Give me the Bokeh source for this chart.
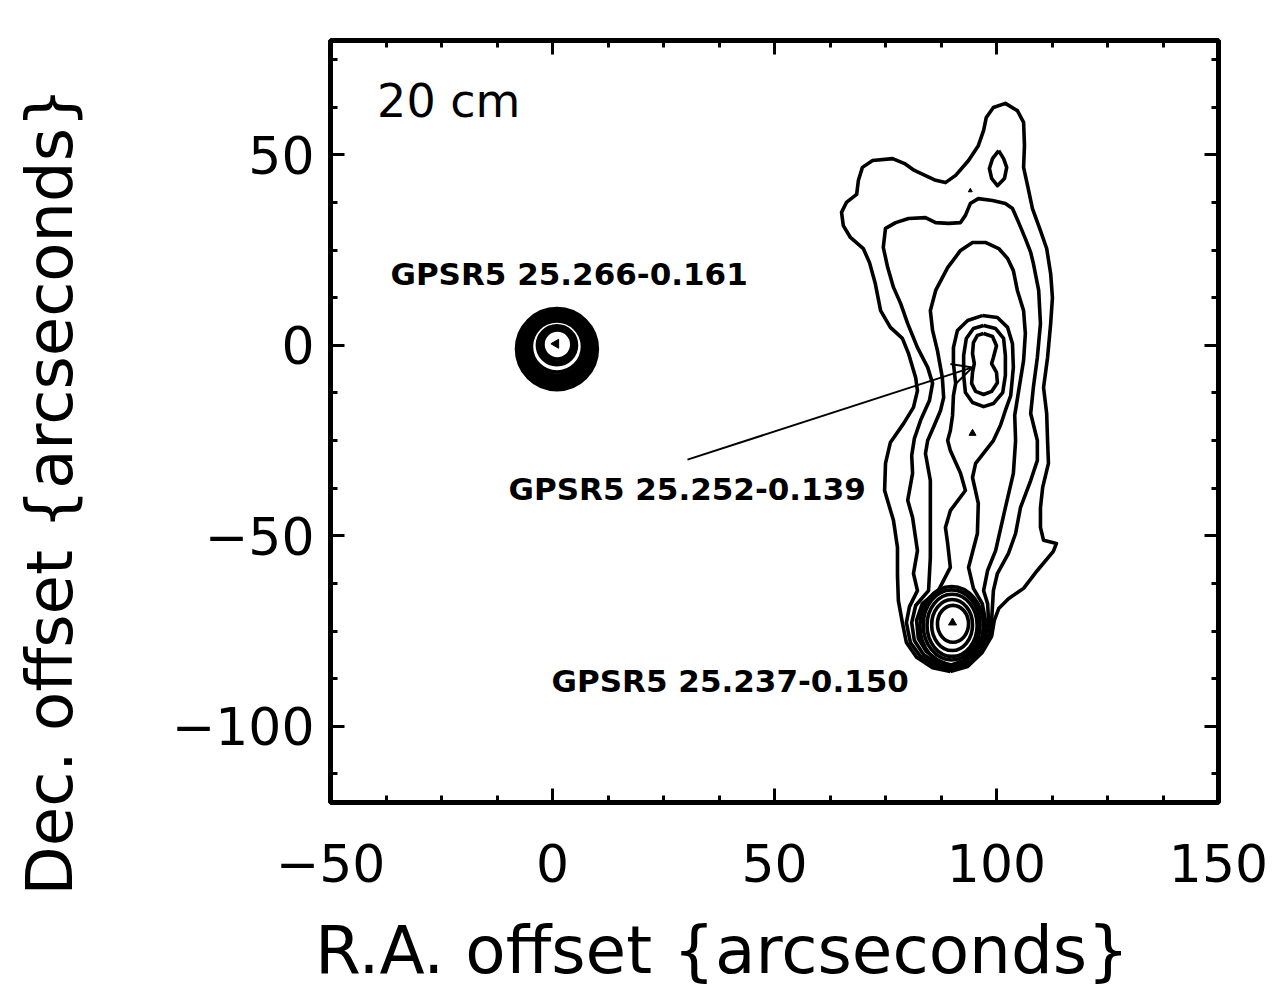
import numpy as np
from bokeh.plotting import figure
from bokeh.models import (FixedTicker, LinearAxis, Arrow, OpenHead, Title,
                          ColumnDataSource, Range1d, CustomJSTickFormatter)
from bokeh.core.properties import value
from bokeh.embed import file_html
from bokeh.resources import INLINE

# ---------------- axes / ticks ----------------
x_major_ticks = [-50, 0, 50, 100, 150]
y_major_ticks = [-100, -50, 0, 50]
x_minor_ticks = [-37.5, -25, -12.5, 12.5, 25, 37.5, 62.5, 75, 87.5, 112.5, 125, 137.5]
y_minor_ticks = [-112.5, -87.5, -75, -62.5, -37.5, -25, -12.5, 12.5, 25, 37.5, 62.5, 75]
tick_label_overrides = {-100: "\u2212100", -50: "\u221250"}
x_title = "R.A. offset {arcseconds}"
y_title = "Dec. offset {arcseconds}"

# ---------------- contours (arcsec offsets) ----------------
contour_1 = [(89.6,-85.6),(85.6,-84.6),(82.0,-81.9),(79.7,-78.0),(78.8,-72.8),(77.9,-67.0),
             (77.7,-60.4),(77.7,-53.1),(76.8,-46.0),(74.8,-38.1),(75.0,-31.0),(76.1,-25.5),
             (79.1,-20.5),(81.3,-16.3),(82.2,-11.9),(81.8,-8.5),(80.2,-2.2),(78.8,1.8),
             (76.1,4.7),(73.9,9.1),(72.7,16.2),(71.4,21.7),(70.0,25.4),(67.1,28.3),
             (65.5,31.4),(65.1,34.9),(66.2,37.5),(68.5,39.6),(68.9,43.3),(69.8,46.7),
             (72.1,48.5),(76.6,49.0),(79.3,47.7),(81.5,45.9),(86.3,43.3),(88.5,42.7),
             (90.8,44.6),(93.7,48.5),(95.9,52.4),(97.1,56.4),(97.7,59.8),(99.3,62.4),
             (102.0,63.5),(104.7,61.6),(106.1,58.5),(106.3,52.4),(106.1,46.7),(107.0,41.9),
             (108.1,35.9),(109.9,30.1),(111.3,25.4),(112.2,18.8),(112.6,12.5),(112.2,5.7),
             (111.5,-3.2),(110.6,-11.1),(111.3,-17.9),(111.5,-25.0),(111.7,-31.0),(110.4,-37.3),
             (109.9,-42.6),(109.9,-47.8),(110.6,-51.2),(113.5,-52.0),(112.8,-54.1),(109.2,-59.1),
             (106.1,-63.8),(102.7,-66.5),(100.5,-69.1),(99.5,-72.2),(98.9,-76.4),(96.8,-80.6),
             (93.5,-84.3),(89.6,-85.6)]
contour_2 = [(89.6,-85.1),(85.8,-83.8),(82.9,-81.7),(80.6,-78.0),(79.7,-72.8),(80.4,-68.6),
             (82.2,-64.4),(81.3,-59.9),(82.2,-53.9),(81.1,-45.2),(80.0,-40.7),(81.1,-33.6),
             (80.9,-28.9),(81.5,-24.5),(82.9,-19.7),(84.9,-14.5),(85.6,-10.0),(84.5,-5.8),
             (82.2,-0.6),(80.0,5.7),(78.4,11.0),(76.8,15.2),(75.5,20.4),(74.5,25.7),
             (75.0,30.7),(77.3,32.2),(80.2,33.3),(84.0,33.5),(86.3,32.2),(89.2,32.0),
             (91.9,32.2),(93.0,34.1),(94.1,37.2),(95.9,38.5),(99.1,38.0),(102.0,37.2),
             (103.6,35.9),(105.0,32.2),(106.5,28.0),(107.7,24.4),(108.3,21.5),(109.5,14.4),
             (109.9,5.7),(109.2,-3.2),(108.3,-11.1),(107.7,-17.9),(109.2,-25.0),(109.2,-30.2),
             (107.7,-35.5),(105.4,-42.6),(104.3,-49.4),(102.7,-54.6),(100.2,-59.9),(99.3,-64.4),
             (99.1,-68.3),(98.9,-72.2),(98.2,-76.4),(96.4,-80.4),(93.2,-83.8),(89.6,-85.1)]
contour_3 = [(89.6,-84.6),(86.5,-83.3),(83.6,-81.2),(81.5,-77.5),(80.9,-72.8),(81.8,-68.3),
             (84.7,-64.4),(85.1,-55.7),(85.1,-46.8),(85.1,-35.5),(84.0,-28.4),(84.5,-25.0),
             (86.0,-21.0),(87.4,-17.1),(88.1,-13.7),(87.8,-8.5),(86.7,-1.4),(85.6,3.9),
             (85.1,9.1),(86.3,14.4),(89.0,20.4),(91.9,24.9),(94.6,27.0),(97.5,27.0),
             (100.5,25.4),(102.5,22.8),(103.8,19.6),(104.7,14.4),(106.1,9.1),(106.5,3.1),
             (106.1,-4.0),(105.0,-11.9),(104.1,-18.4),(104.3,-25.0),(103.8,-33.6),(102.0,-42.6),
             (99.8,-53.9),(98.0,-59.1),(97.1,-64.4),(98.0,-67.8),(98.2,-72.2),(97.5,-76.4),
             (95.7,-80.1),(93.0,-83.3),(89.6,-84.6)]
contour_4 = [(96.8,7.8),(100.2,7.3),(102.5,4.7),(103.6,0.4),(103.8,-5.8),(103.2,-13.2),
             (102.0,-17.1),(100.9,-21.0),(99.3,-25.0),(95.3,-31.0),(94.6,-34.7),(95.9,-41.5),
             (95.7,-49.4),(93.7,-58.3),(94.8,-63.8),(96.8,-67.8),(97.5,-72.2),(96.8,-76.4),
             (95.0,-80.1),(92.6,-82.7),(89.6,-84.0),(86.9,-82.7),(84.2,-80.4),(82.4,-77.0),
             (82.0,-72.2),(83.3,-67.8),(86.9,-64.4),(89.6,-58.3),(89.0,-52.0),(88.5,-47.8),
             (89.6,-43.4),(93.0,-38.1),(91.9,-33.6),(89.6,-27.6),(89.0,-25.0),(89.6,-22.4),
             (90.1,-18.4),(90.3,-13.2),(90.8,-10.0),(90.3,-4.8),(90.3,-0.6),(91.2,3.9),
             (93.5,6.5),(96.8,7.8)]
contour_5_mid = [(97.1,5.2),(99.8,4.4),(101.6,1.8),(102.0,-2.7),(102.0,-7.9),(101.4,-12.4),
                 (99.3,-15.3),(97.1,-16.1),(94.6,-15.0),(93.0,-12.4),(92.6,-7.9),(92.6,-2.7),
                 (93.2,1.8),(94.8,4.4),(97.1,5.2)]
contour_6_mid = [(97.1,3.1),(99.1,2.3),(100.0,-0.1),(99.3,-3.2),(98.9,-4.8),(100.0,-7.1),
                 (100.2,-9.8),(98.9,-12.1),(97.1,-12.9),(95.3,-12.1),(94.4,-10.0),(94.6,-7.1),
                 (95.0,-4.8),(94.6,-2.2),(94.8,0.7),(95.7,2.6),(97.1,3.1)]
contour_north_lens = [(100.5,51.1),(101.6,49.0),(102.3,46.7),(101.8,43.8),(100.2,41.9),
                      (98.9,43.8),(98.4,46.4),(99.1,49.0),(100.5,51.1)]

# compact sources drawn as nested rings: centre x, centre y, width, height (arcsec)
ring_cx = [1.0, 1.0, 1.0, 1.0, 1.0, 1.0, 1.0, 1.0, 1.1, 1.1,
           89.9, 89.9, 90.0, 90.0, 90.2]
ring_cy = [-1.0, -0.9, -0.8, -0.7, -0.6, -0.5, -0.3, 0.0, 0.1, 0.2,
           -73.6, -73.4, -73.5, -73.4, -73.1]
ring_w = [18.2, 17.1, 16.0, 14.9, 13.7, 12.6, 11.5, 8.8, 7.7, 6.5,
          14.3, 12.8, 11.3, 9.2, 7.0]
ring_h = [21.3, 19.9, 18.6, 17.3, 16.0, 14.7, 13.4, 10.2, 9.0, 7.6,
          20.6, 18.4, 16.3, 13.4, 9.7]

# tiny peak contours
peak_x = [90.1, 94.6, 94.1]
peak_y = [-72.8, -23.1, 40.6]
peak_size = [8, 7, 4]
left_peak_x = [0.8]
left_peak_y = [0.4]

# annotations
source_names = ["GPSR5 25.266-0.161", "GPSR5 25.252-0.139", "GPSR5 25.237-0.150"]
source_label_x = [-36.5, -9.9, -0.2]
source_label_y = [18.8, -37.6, -88.0]
arrow_from = (30.4, -30.0)
arrow_to = (94.6, -5.8)
band_label = "20 cm"
band_label_pos = (-39.5, 64.2)

contours = [contour_1, contour_2, contour_3, contour_4, contour_5_mid, contour_6_mid,
            contour_north_lens]

# ---------------- figure ----------------
p = figure(width=1280, height=1003, x_range=Range1d(-50, 150), y_range=Range1d(-120, 80),
           output_backend="svg", toolbar_location=None,
           min_border_left=330, min_border_right=62, min_border_top=40,
           min_border_bottom=201)
p.grid.visible = False
p.outline_line_color = "black"
p.outline_line_width = 5
p.background_fill_color = "white"
p.border_fill_color = "white"

FONT = "DejaVu Sans"
NBSP = "\u00a0"
blank = CustomJSTickFormatter(code="return '';")


def style_axis(ax, ticks, minor, show_labels):
    ax.ticker = FixedTicker(ticks=ticks, minor_ticks=minor)
    ax.axis_line_color = None
    ax.major_tick_in = 14
    ax.major_tick_out = 0
    ax.minor_tick_in = 7
    ax.minor_tick_out = 0
    ax.major_tick_line_width = 3
    ax.minor_tick_line_width = 3
    ax.major_tick_line_color = "black"
    ax.minor_tick_line_color = "black"
    ax.major_label_text_font = FONT
    ax.major_label_text_font_size = "52px"
    ax.major_label_text_color = "black"
    ax.axis_label_text_font = FONT
    ax.axis_label_text_font_size = "66px"
    ax.axis_label_text_font_style = "normal"
    ax.axis_label_text_color = "black"
    if show_labels:
        ax.major_label_overrides = tick_label_overrides
    else:
        ax.formatter = blank
        ax.major_label_standoff = 0


style_axis(p.xaxis[0], x_major_ticks, x_minor_ticks, True)
style_axis(p.yaxis[0], y_major_ticks, y_minor_ticks, True)
p.xaxis[0].major_label_standoff = 41
p.yaxis[0].major_label_standoff = 16
# the original x title sits left of centre; trailing spaces mimic that
p.xaxis[0].axis_label = x_title + NBSP * 5
p.xaxis[0].axis_label_standoff = 27

top_axis = LinearAxis()
style_axis(top_axis, x_major_ticks, x_minor_ticks, False)
p.add_layout(top_axis, "above")
right_axis = LinearAxis()
style_axis(right_axis, y_major_ticks, y_minor_ticks, False)
p.add_layout(right_axis, "right")

# y title: placed low along the axis like the original, pushed outward by an empty line
p.add_layout(Title(text=y_title + "\n" + NBSP, align="left", offset=-93, standoff=16,
                   text_font=FONT, text_font_size="64px", text_font_style="normal",
                   text_color="black"), "left")

# contours
p.multi_line(xs=[[pt[0] for pt in c] for c in contours],
             ys=[[pt[1] for pt in c] for c in contours],
             line_color="black", line_width=3.6, line_join="round")
p.ellipse(x=ring_cx, y=ring_cy, width=ring_w, height=ring_h,
          fill_color=None, line_color="black", line_width=3.6)
p.scatter(x=peak_x, y=peak_y, size=peak_size, marker="triangle",
          fill_color="black", line_color="black")
p.scatter(x=left_peak_x, y=left_peak_y, size=9, marker="triangle", angle=np.pi / 2,
          fill_color="black", line_color="black")

# labels
lab_src = ColumnDataSource(dict(x=source_label_x, y=source_label_y, text=source_names))
p.text(x="x", y="y", text="text", source=lab_src, text_font=value(FONT),
       text_font_style="bold", text_font_size="31px", text_align="left",
       text_baseline="alphabetic", text_color="black")
p.text(x=[band_label_pos[0]], y=[band_label_pos[1]], text=[band_label],
       text_font=value(FONT), text_font_size="46px", text_align="left",
       text_baseline="alphabetic", text_color="black")

p.add_layout(Arrow(end=OpenHead(size=20, line_width=2, line_color="black"),
                   x_start=arrow_from[0], y_start=arrow_from[1],
                   x_end=arrow_to[0], y_end=arrow_to[1],
                   line_width=2, line_color="black"))

open("out.html", "w").write(file_html(p, INLINE))
